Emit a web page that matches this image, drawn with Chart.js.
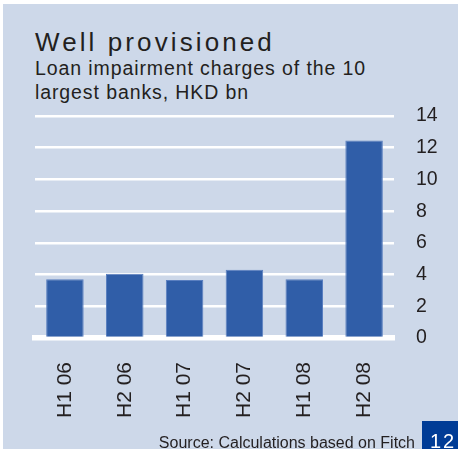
<!DOCTYPE html>
<html>
<head>
<meta charset="utf-8">
<script src="https://cdn.jsdelivr.net/npm/chart.js@4.4.0/dist/chart.umd.min.js"></script>
<style>
  body { margin: 0; background: #fff; font-family: "Liberation Sans", Arial, sans-serif; color: #231f20; }
  #wrap { position: relative; width: 458px; height: 459px; overflow: hidden; }
  #panel { position: absolute; left: 3px; top: 4px; width: 455px; height: 445px; background: #cdd8e9; }
  canvas { position: absolute; left: 0; top: 0; }
  .txt { position: absolute; white-space: nowrap; }
  #title { left: 35px; top: 28.7px; font-size: 26px; line-height: 26px; letter-spacing: 3.1px; }
  #sub { left: 35px; top: 56.2px; font-size: 19.5px; line-height: 24px; letter-spacing: 0.9px; }
  #source { right: 43px; top: 434.8px; font-size: 16px; line-height: 16px; }
  #page { position: absolute; left: 422px; top: 421px; width: 36px; height: 28px; background: #003c96; }
  #pnum { left: 430px; top: 431.4px; font-size: 20px; line-height: 20px; color: #fff; letter-spacing: 2px; }
</style>
</head>
<body>
<div id="wrap">
  <div id="panel"></div>
  <div id="title" class="txt">Well provisioned</div>
  <div id="sub" class="txt">Loan impairment charges of the 10<br>largest banks, HKD bn</div>
  <canvas id="chart" width="458" height="459"></canvas>
  <div id="source" class="txt">Source: Calculations based on Fitch</div>
  <div id="page"></div>
  <div id="pnum" class="txt">12</div>
</div>
<script>
// half-year periods and loan impairment charges (HKD bn)
const periods = ['H1 06', 'H2 06', 'H1 07', 'H2 07', 'H1 08', 'H2 08'];
const charges = [3.7, 4.05, 3.65, 4.3, 3.7, 12.45];
const yMin = 0;
const yMax = 14;
const yStep = 2;

const ink = '#231f20';
const font = '"Liberation Sans", Arial, sans-serif';

new Chart('chart', {
  type: 'bar',
  data: {
    labels: periods,
    datasets: [{
      data: charges,
      backgroundColor: '#305ea8',
      borderColor: '#5a7fc0',
      borderWidth: 1,
      barPercentage: 0.627,
      categoryPercentage: 1
    }]
  },
  options: {
    responsive: false,
    animation: false,
    layout: { padding: { left: 35, top: 116, right: 0, bottom: 0 } },
    plugins: { legend: { display: false }, tooltip: { enabled: false } },
    scales: {
      x: {
        z: 1, // white zero line sits over the bar bottoms
        grid: { display: false, drawTicks: false },
        border: { display: true, color: '#ffffff', width: 5.5 },
        ticks: {
          color: ink,
          font: { family: font, size: 21 },
          minRotation: 90,
          maxRotation: 90,
          padding: 24
        },
        afterFit: s => { s.height = 459 - 338; }
      },
      y: {
        position: 'right',
        min: yMin,
        max: yMax,
        grid: { color: '#ffffff', lineWidth: 2.5, drawTicks: false },
        border: { display: false },
        ticks: {
          stepSize: yStep,
          color: ink,
          font: { family: font, size: 19.5 },
          padding: 22
        },
        afterFit: s => { s.width = 458 - 394; }
      }
    }
  }
});
</script>
</body>
</html>
